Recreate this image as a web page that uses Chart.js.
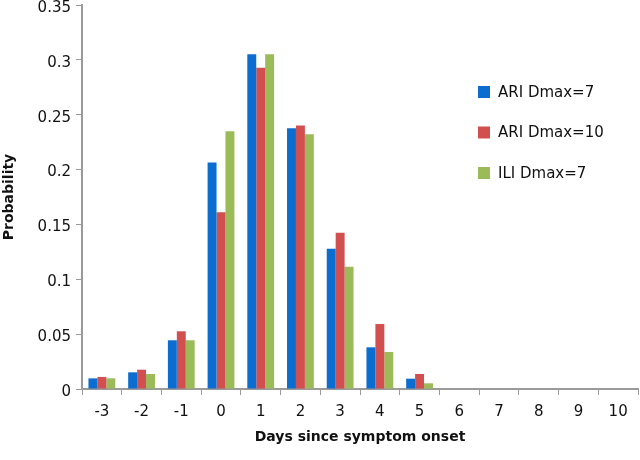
<!DOCTYPE html>
<html>
<head>
<meta charset="utf-8">
<script src="https://cdn.jsdelivr.net/npm/chart.js@4"></script>
<style>
  html, body { margin: 0; padding: 0; background: #fff; }
  #wrap { width: 640px; height: 460px; }
</style>
</head>
<body>
<div id="wrap"><canvas id="myChart" width="640" height="460"></canvas></div>
<script>
const days = ["-3", "-2", "-1", "0", "1", "2", "3", "4", "5", "6", "7", "8", "9", "10"];
const ariDmax7 = [0.0097, 0.0152, 0.0444, 0.2065, 0.305, 0.2377, 0.1278, 0.038, 0.0094, 0, 0, 0, 0, 0];
const ariDmax10 = [0.011, 0.0176, 0.0526, 0.161, 0.2927, 0.2401, 0.1424, 0.0592, 0.0137, 0, 0, 0, 0, 0];
const iliDmax7 = [0.0097, 0.0137, 0.0444, 0.235, 0.305, 0.2322, 0.1114, 0.0337, 0.0052, 0, 0, 0, 0, 0];
const seriesNames = ["ARI Dmax=7", "ARI Dmax=10", "ILI Dmax=7"];
const seriesColors = ["#0b6dcf", "#d24f4f", "#9bbb59"];

const fontFamily = "'DejaVu Sans', Verdana, sans-serif";
const axisColor = "#9a9a9a";

// legend sits inside the plot, on the right
const sideLegend = {
  id: "sideLegend",
  afterDraw(chart) {
    const ctx = chart.ctx;
    ctx.save();
    ctx.font = "15px " + fontFamily;
    ctx.textBaseline = "middle";
    chart.data.datasets.forEach((ds, i) => {
      const cy = 92 + i * 40.5;
      ctx.fillStyle = ds.backgroundColor;
      ctx.fillRect(478, cy - 6, 12, 12);
      ctx.fillStyle = "#111";
      ctx.fillText(ds.label, 498, cy + 1);
    });
    ctx.restore();
  },
};

const data = {
  labels: days,
  datasets: [
    { label: seriesNames[0], data: ariDmax7, backgroundColor: seriesColors[0] },
    { label: seriesNames[1], data: ariDmax10, backgroundColor: seriesColors[1] },
    { label: seriesNames[2], data: iliDmax7, backgroundColor: seriesColors[2] },
  ],
};

const config = {
  type: "bar",
  data: data,
  options: {
    responsive: false,
    animation: false,
    layout: { padding: { top: 5, right: 2, left: 0, bottom: 0 } },
    datasets: {
      bar: { barPercentage: 1, categoryPercentage: 0.675 },
    },
    plugins: {
      legend: { display: false },
      tooltip: { enabled: false },
    },
    scales: {
      x: {
        grid: {
          drawOnChartArea: false,
          drawTicks: true,
          tickLength: 6,
          color: axisColor,
        },
        border: { color: axisColor, width: 2 },
        ticks: {
          color: "#111",
          font: { family: fontFamily, size: 15 },
          padding: 8,
          maxRotation: 0,
        },
        title: {
          display: true,
          text: "Days since symptom onset",
          color: "#111",
          font: { family: fontFamily, size: 14, weight: "bold" },
          padding: { top: 4, bottom: 14 },
        },
        afterFit: (scale) => {
          scale.height = 71;
        },
      },
      y: {
        min: 0,
        max: 0.35,
        grid: {
          drawOnChartArea: false,
          drawTicks: true,
          tickLength: 6,
          color: axisColor,
        },
        border: { color: axisColor, width: 2 },
        ticks: {
          stepSize: 0.05,
          color: "#111",
          font: { family: fontFamily, size: 15 },
          padding: 5,
          labelOffset: 3,
          callback: (v) => String(+Number(v).toFixed(2)),
        },
        title: {
          display: true,
          text: "Probability",
          color: "#111",
          font: { family: fontFamily, size: 14, weight: "bold" },
          padding: { top: 1, bottom: 10 },
        },
        afterFit: (scale) => {
          scale.width = 82;
          scale.paddingTop = 0;
          scale.paddingBottom = 0;
        },
      },
    },
  },
  plugins: [sideLegend],
};

var myChart = new Chart(document.getElementById("myChart"), config);
</script>
</body>
</html>
